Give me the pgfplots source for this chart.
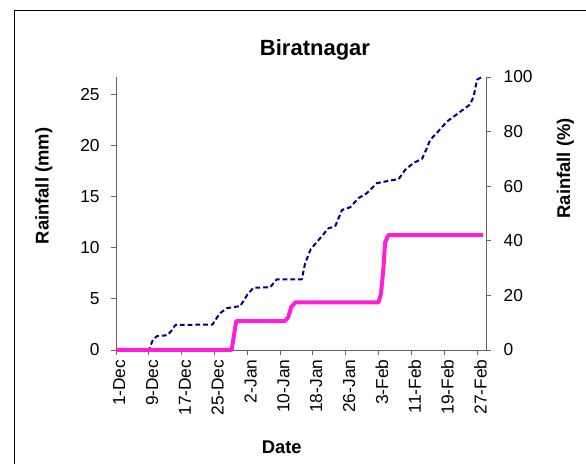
\documentclass[border=0pt]{standalone}
\usepackage{pgfplots}
\pgfplotsset{compat=1.18}
\usepackage{fontspec}
\setmainfont{Liberation Sans}
\definecolor{pinkline}{RGB}{255,30,215}
\definecolor{navyline}{RGB}{0,0,128}
\definecolor{axisgray}{RGB}{100,100,100}
\begin{document}
\begin{tikzpicture}
\useasboundingbox (-87pt,-85.5pt) rectangle (352.5pt,262.5pt);
\begin{scope}
\clip (-87pt,-85.5pt) rectangle (352.5pt,262.5pt);
\draw[black, line width=0.8pt] (-76.1pt,-200pt) rectangle (500pt,254.4pt);
\end{scope}
\pgfplotsset{
  common/.style={
    scale only axis, width=277.5pt, height=204.75pt,
    at={(0,0)}, anchor=south west,
    xmin=0, xmax=90.2,
    tick align=outside, major tick length=3.75pt,
    /pgf/number format/assume math mode=true,
    tick label style={font=\fontsize{13}{15}\selectfont},
    axis line style={axisgray, line width=0.7pt},
    every tick/.style={axisgray, line width=0.7pt},
    clip=false,
  }
}
% right axis (percent), drawn first
\begin{axis}[common,
  axis y line*=right, axis x line=none,
  ymin=0, ymax=100, ytick={0,20,40,60,80,100},
  yticklabel style={anchor=west, xshift=6pt},
]
\addplot[navyline, line width=1.5pt, dash pattern=on 3.6pt off 2.2pt, line join=round] coordinates {
(0,0) (8,0) (9,3.7) (10,5.1) (12.5,5.4) (13.5,7) (14.5,9.2) (23.5,9.3) (25.3,13.4) (27,15.3) (30.3,16.1) (32,20.2) (33.5,22.8) (37.6,23) (39.2,25.9) (45.3,25.9) (46.1,31.8) (47.5,37) (49.8,41) (51.8,44.6) (53.4,45.2) (55.1,51.3) (57.1,52.3) (59.1,55.6) (61.2,57.5) (63.6,61.1) (66.9,62.1) (68.9,62.6) (70.5,66) (72.5,68.5) (74.6,70) (75.8,74) (76.6,77) (78.2,79.5) (80.7,83.7) (83.5,86.8) (86.3,89.9) (87.2,92.9) (88,99) (89.2,100)
};
\end{axis}
% left axis (mm)
\begin{axis}[common,
  axis y line*=left, axis x line*=bottom,
  ymin=0, ymax=26.7, ytick={0,5,10,15,20,25},
  yticklabel style={anchor=east, xshift=-5pt},
  xtick={0,8,16,24,32,40,48,56,64,72,80,88},
  xticklabels={1-Dec,9-Dec,17-Dec,25-Dec,2-Jan,10-Jan,18-Jan,26-Jan,3-Feb,11-Feb,19-Feb,27-Feb},
  xticklabel style={rotate=90, anchor=east, yshift=-2.5pt},
]
\addplot[pinkline, line width=3pt, line join=round] coordinates {
(0,0) (28.2,0) (29.3,2.83) (41.2,2.83) (42,3.2) (42.7,4.2) (43.7,4.66) (64,4.66) (64.6,5.5) (65.2,8) (65.6,10.5) (66.4,11.24) (89.5,11.24)
};
\end{axis}
\node[anchor=base, font=\fontsize{16.5}{19}\selectfont\bfseries] at (149.25pt,221pt) {Biratnagar};
\node[anchor=base, font=\fontsize{13.8}{16}\selectfont\bfseries] at (124.3pt,-77.5pt) {Date};
\node[anchor=base, rotate=90, font=\fontsize{13.8}{16}\selectfont\bfseries] at (-50.6pt,123pt) {Rainfall (mm)};
\node[anchor=base, rotate=90, font=\fontsize{13.8}{16}\selectfont\bfseries] at (340.5pt,136.3pt) {Rainfall (\%)};
\end{tikzpicture}
\end{document}
